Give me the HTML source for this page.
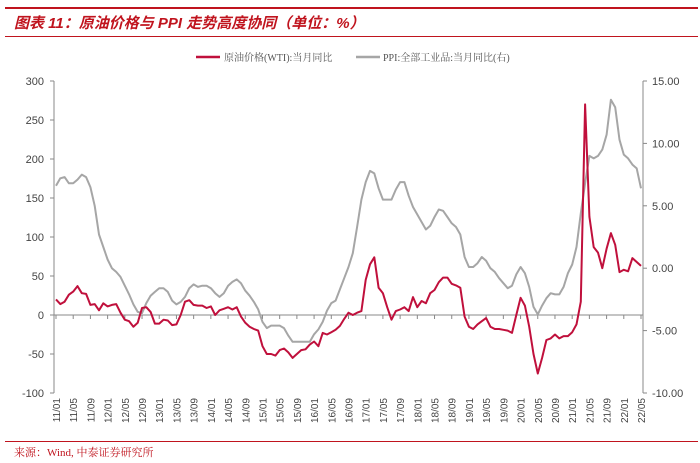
<!DOCTYPE html>
<html><head><meta charset="utf-8">
<style>
body{margin:0;background:#fff;}
#wrap{position:relative;width:700px;height:463px;overflow:hidden;font-family:"Liberation Sans","Noto Sans CJK SC",sans-serif;}
.t{position:absolute;}
</style></head>
<body>
<div id="wrap">
<div class="t" style="left:5px;top:7px;width:693px;height:2px;background:#c0141e"></div>
<div class="t" style="left:14px;top:12px;font-size:15px;font-weight:bold;font-style:italic;color:#c0141e;font-family:'Liberation Sans','Noto Sans CJK SC',sans-serif">图表 11：原油价格与 PPI 走势高度协同（单位：%）</div>
<div class="t" style="left:5px;top:36px;width:693px;height:1px;background:#c0141e"></div>
<div class="t" style="left:5px;top:441px;width:693px;height:1px;background:#c0141e"></div>
<div class="t" style="left:14px;top:444px;font-size:11px;color:#c0141e;font-family:'Liberation Serif','Noto Serif CJK SC',serif">来源：Wind, 中泰证券研究所</div>
<svg id="chart" width="700" height="463" style="position:absolute;left:0;top:0"></svg>
</div>
<script>
const categories = [];
for (let y = 11; y <= 22; y++) for (let m = 1; m <= 12; m++) { if (y === 22 && m > 5) break; categories.push(y + '/' + String(m).padStart(2, '0')); }
const wtiYoy = [
20,14,17,26,30,37,28,27,13,14,6,15,
11,13,14,3,-6,-8,-15,-10,9,10,4,-11,
-11,-6,-7,-13,-12,0,17,19,13,12,12,9,
11,0,6,8,10,7,10,-2,-10,-15,-18,-20,
-40,-50,-50,-52,-45,-43,-48,-55,-50,-45,-44,-38,
-34,-40,-23,-25,-22,-19,-14,-5,3,0,3,5,
45,65,74,35,28,10,-6,5,7,10,5,23,
10,18,15,28,32,42,48,48,40,38,35,-2,
-15,-18,-12,-8,-4,-15,-18,-18,-19,-20,-23,0,
22,12,-15,-50,-75,-55,-32,-30,-25,-30,-27,-27,
-22,-12,17,270,126,87,80,60,85,105,90,55,
58,56,73,68,63];
const ppiYoy = [
6.6,7.2,7.3,6.8,6.8,7.1,7.5,7.3,6.5,5.0,2.7,1.7,
0.7,0.0,-0.3,-0.7,-1.4,-2.1,-2.9,-3.5,-3.6,-2.8,-2.2,-1.9,
-1.6,-1.6,-1.9,-2.6,-2.9,-2.7,-2.3,-1.6,-1.3,-1.5,-1.4,-1.4,
-1.6,-2.0,-2.3,-2.0,-1.4,-1.1,-0.9,-1.2,-1.8,-2.2,-2.7,-3.3,
-4.3,-4.8,-4.6,-4.6,-4.6,-4.8,-5.4,-5.9,-5.9,-5.9,-5.9,-5.9,
-5.3,-4.9,-4.3,-3.4,-2.8,-2.6,-1.7,-0.8,0.1,1.2,3.3,5.5,
6.9,7.8,7.6,6.4,5.5,5.5,5.5,6.3,6.9,6.9,5.8,4.9,
4.3,3.7,3.1,3.4,4.1,4.7,4.6,4.1,3.6,3.3,2.7,0.9,
0.1,0.1,0.4,0.9,0.6,0.0,-0.3,-0.8,-1.2,-1.6,-1.4,-0.5,
0.1,-0.4,-1.5,-3.1,-3.7,-3.0,-2.4,-2.0,-2.1,-2.1,-1.5,-0.4,
0.3,1.7,4.4,6.8,9.0,8.8,9.0,9.5,10.7,13.5,12.9,10.3,
9.1,8.8,8.3,8.0,6.4];
const leftTicks = [300,250,200,150,100,50,0,-50,-100];
const rightTicks = [15,10,5,0,-5,-10];

const svg = document.getElementById('chart');
const NS = 'http://www.w3.org/2000/svg';
const X0 = 56, X1 = 641, YT = 81, YB = 393;
const xPos = i => X0 + (X1 - X0) * i / (categories.length - 1);
const yL = v => YT + (300 - v) / 400 * (YB - YT);
const yR = v => YT + (15 - v) / 25 * (YB - YT);
function mk(tag, attrs){ const e = document.createElementNS(NS, tag); for (const k in attrs) e.setAttribute(k, attrs[k]); svg.appendChild(e); return e; }

// axes
let e = mk('line',{x1:54,y1:YT,x2:54,y2:YB,stroke:'#888','stroke-width':1});


e = mk('line',{x1:643,y1:YT,x2:643,y2:YB,stroke:'#888','stroke-width':1});


e = mk('line',{x1:54,y1:yL(0),x2:643,y2:yL(0),stroke:'#888','stroke-width':1});



leftTicks.forEach(v => {
  const t = mk('line',{x1:50,y1:yL(v),x2:54,y2:yL(v),stroke:'#888'});
  
  
  const l = mk('text',{x:44,y:yL(v)+4,'text-anchor':'end','font-size':11,fill:'#444','font-family':'Liberation Sans, sans-serif'});
  l.textContent = v;
  
  
});
rightTicks.forEach(v => {
  const t = mk('line',{x1:643,y1:yR(v),x2:647,y2:yR(v),stroke:'#888'});
  
  
  const l = mk('text',{x:652,y:yR(v)+4,'font-size':11,fill:'#444','font-family':'Liberation Sans, sans-serif'});
  l.textContent = v.toFixed(2);
  
  
});
categories.forEach((c, i) => {
  if (i % 4 !== 0) return;
  const x = xPos(i);
  const t = mk('line',{x1:x,y1:yL(0),x2:x,y2:yL(0)+4,stroke:'#888'});
  
  
  const l = mk('text',{x:0,y:0,'font-size':10,fill:'#444','text-anchor':'end','font-family':'Liberation Sans, sans-serif',transform:`translate(${x+4},398) rotate(-90)`});
  l.textContent = c;
  
  
});

const ppiPath = ppiYoy.map((v,i)=>(i?'L':'M')+xPos(i).toFixed(1)+','+yR(v).toFixed(1)).join('');
e = mk('path',{d:ppiPath,fill:'none',stroke:'#a6a6a6','stroke-width':2,'stroke-linejoin':'round'});


const wtiPath = wtiYoy.map((v,i)=>(i?'L':'M')+xPos(i).toFixed(1)+','+yL(v).toFixed(1)).join('');
e = mk('path',{d:wtiPath,fill:'none',stroke:'#c0103c','stroke-width':2,'stroke-linejoin':'round'});



// legend
e = mk('line',{x1:196,y1:57,x2:220,y2:57,stroke:'#c0103c','stroke-width':2.5});


e = mk('text',{x:224,y:61,'font-size':10,fill:'#555','font-family':'Liberation Serif, Noto Serif CJK SC, serif'});
e.textContent = '原油价格(WTI):当月同比';


e = mk('line',{x1:356,y1:57,x2:380,y2:57,stroke:'#a6a6a6','stroke-width':2.5});


e = mk('text',{x:383,y:61,'font-size':10,fill:'#555','font-family':'Liberation Serif, Noto Serif CJK SC, serif'});
e.textContent = 'PPI:全部工业品:当月同比(右)';


</script>
</body></html>
